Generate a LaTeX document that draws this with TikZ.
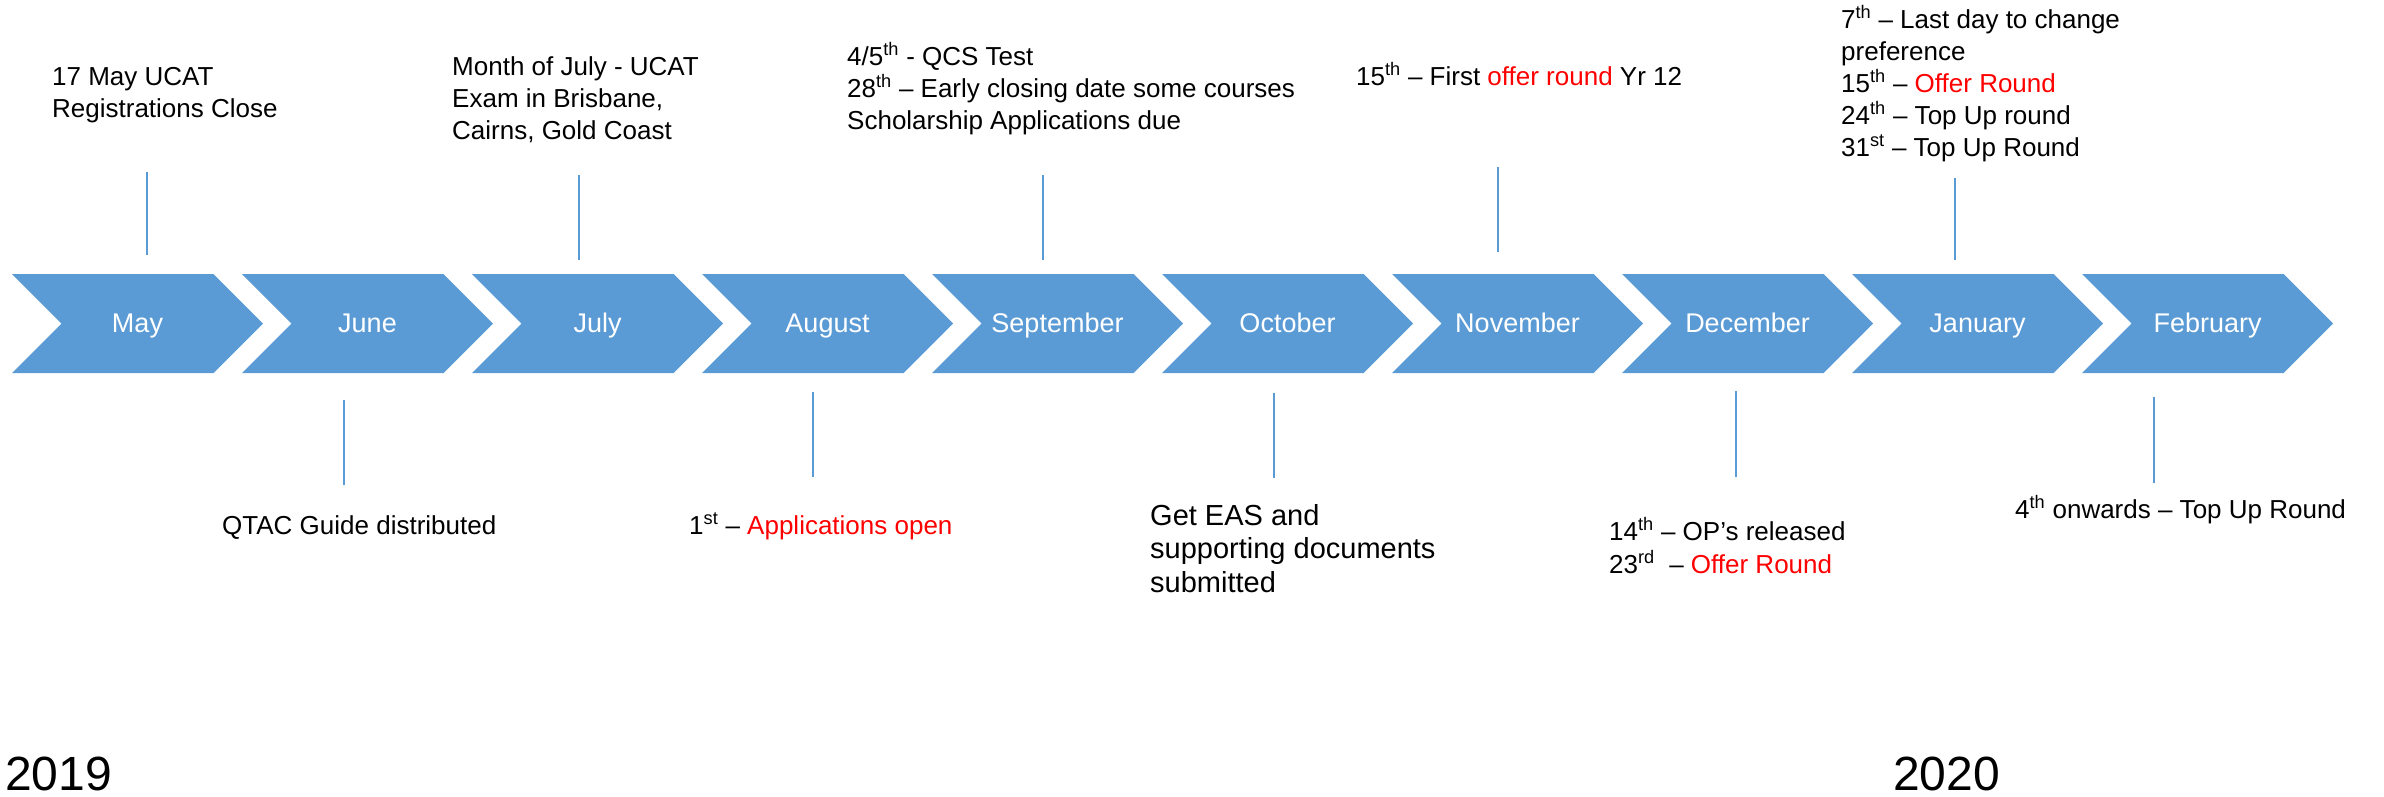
\documentclass[tikz,border=0pt]{standalone}
\usepackage{fontspec}
\setmainfont{Liberation Sans}
\definecolor{chev}{HTML}{5B9BD5}
\definecolor{offer}{HTML}{FF0000}
\newcommand\linestack[1]{\vtop{\halign{##\hfil\cr#1\crcr}}}
\begin{document}
\begin{tikzpicture}[x=1pt,y=-1pt,
  month/.style={font=\fontsize{27}{30}\selectfont, text=white, anchor=base, inner sep=0pt},
  txt/.style={font=\fontsize{26}{32}\selectfont, anchor=base west, inner sep=0pt, text=black},
  bigtxt/.style={font=\fontsize{29}{33.5}\selectfont, anchor=base west, inner sep=0pt, text=black},
  year/.style={font=\fontsize{48}{56}\selectfont, anchor=base west, inner sep=0pt, text=black},
  callout/.style={draw=chev, line width=1.5pt}]
\useasboundingbox (0,0) rectangle (2384,796);

% chevrons
\foreach \m [count=\i from 0] in {May,June,July,August,September,October,November,December,January,February} {
  \pgfmathsetmacro\L{12+230*\i}
  \fill[chev] (\L,274) -- (\L+201.5,274) -- (\L+251,323.5) -- (\L+201.5,373) -- (\L,373) -- (\L+49.5,323.5) -- cycle;
  \node[month] (m\i) at (\L+125.5,332) {\m};
}

% top texts
\node[txt] (tmay) at (52,85) {\linestack{17 May UCAT\cr Registrations Close}};
\node[txt] (tjul) at (452,75) {\linestack{Month of July - UCAT\cr Exam in Brisbane,\cr Cairns, Gold Coast}};
\node[txt] (tsep) at (847,65) {\linestack{4/5\textsuperscript{th} - QCS Test\cr 28\textsuperscript{th} – Early closing date some courses\cr Scholarship Applications due}};
\node[txt] (tnov) at (1356,85) {15\textsuperscript{th} – First \textcolor{offer}{offer round} Yr 12};
\node[txt] (tjan) at (1841,28) {\linestack{7\textsuperscript{th} – Last day to change\cr preference\cr 15\textsuperscript{th} – \textcolor{offer}{Offer Round}\cr 24\textsuperscript{th} – Top Up round\cr 31\textsuperscript{st} – Top Up Round}};

% bottom texts
\node[txt] (tjun) at (222,534) {QTAC Guide distributed};
\node[txt] (taug) at (689,534) {1\textsuperscript{st} – \textcolor{offer}{Applications open}};
\node[bigtxt] (toct) at (1150,525) {\linestack{Get EAS and\cr supporting documents\cr submitted}};
\node[txt, font=\fontsize{26}{33}\selectfont] (tdec) at (1609,540) {\linestack{14\textsuperscript{th} – OP’s released\cr 23\textsuperscript{rd}\ \ – \textcolor{offer}{Offer Round}}};
\node[txt] (tfeb) at (2015,518) {4\textsuperscript{th} onwards – Top Up Round};

% years
\node[year] (y2019) at (5,790) {2019};
\node[year] (y2020) at (1893,790) {2020};

% callout lines
\coordinate (cmayA) at (147,172); \coordinate (cmayB) at (147,255);
\coordinate (cjulA) at (579,175); \coordinate (cjulB) at (579,260);
\coordinate (csepA) at (1043,175); \coordinate (csepB) at (1043,260);
\coordinate (cnovA) at (1498,167); \coordinate (cnovB) at (1498,252);
\coordinate (cjanA) at (1955,178); \coordinate (cjanB) at (1955,260);
\coordinate (cjunA) at (344,400); \coordinate (cjunB) at (344,485);
\coordinate (caugA) at (813,392); \coordinate (caugB) at (813,477);
\coordinate (coctA) at (1274,393); \coordinate (coctB) at (1274,478);
\coordinate (cdecA) at (1736,391); \coordinate (cdecB) at (1736,477);
\coordinate (cfebA) at (2154,397); \coordinate (cfebB) at (2154,483);
\foreach \c in {may,jul,sep,nov,jan,jun,aug,oct,dec,feb}
  \draw[callout] (c\c A) -- (c\c B);
\end{tikzpicture}
\end{document}
